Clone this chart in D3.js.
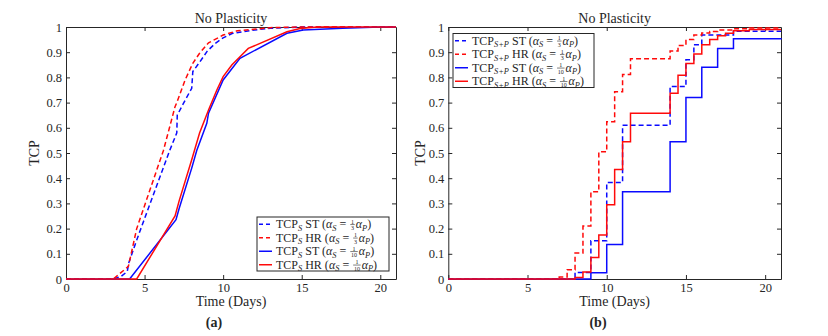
<!DOCTYPE html>
<meta charset="utf-8">
<style>
  body { margin: 0; background: #fff; }
  .axis path, .axis line { stroke: #262626; }
</style>
<body>
<script src="https://d3js.org/d3.v7.min.js"></script>
<script>

var width = 828,
    height = 336;
var FONT = "Liberation Serif";

// panel (a): TCP_S, time in days
var aStThirdT  = [0, 3, 3.5, 3.9, 4, 4.5, 6.6, 7.05, 7.08, 7.5, 8, 8.07, 8.5, 9, 9.5, 10, 10.6, 12, 13, 15, 21];
var aStThirdV  = [0, 0, 0.01, 0.03, 0.065, 0.155, 0.51, 0.58, 0.65, 0.70, 0.757, 0.823, 0.86, 0.905, 0.935, 0.957, 0.975, 0.988, 0.995, 1, 1];
var aHrThirdT  = [0, 3, 3.3, 3.97, 4.5, 6.2, 6.94, 7.05, 7.58, 8.07, 8.5, 9.07, 10, 10.9, 13.2, 15, 21];
var aHrThirdV  = [0, 0, 0.015, 0.05, 0.2, 0.51, 0.684, 0.70, 0.79, 0.856, 0.896, 0.937, 0.968, 0.985, 0.998, 1, 1];
var aStTenthT  = [0, 4.05, 7.0, 7.2, 8, 8.32, 8.96, 9.07, 10, 11.07, 14.06, 15.1, 17.6, 20, 21];
var aStTenthV  = [0, 0, 0.235, 0.28, 0.44, 0.51, 0.618, 0.658, 0.79, 0.876, 0.975, 0.988, 0.995, 1, 1];
var aHrTenthT  = [0, 4.5, 6.94, 7.2, 8, 8.5, 9.07, 9.6, 10, 10.55, 11.07, 11.6, 14.06, 14.9, 16, 21];
var aHrTenthV  = [0, 0, 0.25, 0.31, 0.473, 0.579, 0.671, 0.75, 0.803, 0.849, 0.882, 0.915, 0.981, 0.994, 1, 1];

// panel (b): TCP_S+P, step values (value holds from its time on)
var bStThirdT  = [0, 8, 9, 10, 11, 14, 15, 15.5, 16, 18, 21];
var bStThirdV  = [0, 0.026, 0.152, 0.383, 0.61, 0.764, 0.87, 0.93, 0.968, 0.983, 0.983];
var bHrThirdT  = [0, 7, 7.5, 8, 8.5, 9, 9.5, 10, 10.5, 11, 11.5, 14, 14.5, 15, 15.5, 16, 16.5, 17, 18, 19, 21];
var bHrThirdV  = [0, 0.008, 0.037, 0.103, 0.21, 0.346, 0.505, 0.624, 0.743, 0.812, 0.874, 0.905, 0.927, 0.95, 0.968, 0.976, 0.982, 0.988, 0.993, 0.996, 0.996];
var bStTenthT  = [0, 9, 10, 11, 14, 15, 16, 17, 18, 21];
var bStTenthV  = [0, 0.025, 0.137, 0.346, 0.545, 0.72, 0.84, 0.915, 0.953, 0.955];
var bHrTenthT  = [0, 8, 8.5, 9, 9.5, 10, 10.5, 11, 11.5, 14, 14.5, 15, 15.5, 16, 16.5, 17, 17.5, 18, 19, 21];
var bHrTenthV  = [0, 0.006, 0.028, 0.085, 0.175, 0.295, 0.435, 0.545, 0.658, 0.737, 0.809, 0.855, 0.893, 0.93, 0.95, 0.965, 0.975, 0.985, 0.99, 0.99];

var xTicks = [0, 5, 10, 15, 20];
var yTicks = [0, 0.1, 0.2, 0.3, 0.4, 0.5, 0.6, 0.7, 0.8, 0.9, 1];
var yTickLabels = ["0", "0.1", "0.2", "0.3", "0.4", "0.5", "0.6", "0.7", "0.8", "0.9", "1"];

var kinds  = ["ST", "HR", "ST", "HR"];
var denoms = ["3", "3", "10", "10"];
var colors = ["#0a0aff", "#ff0a0a", "#0a0aff", "#ff0a0a"];
var dashed = [true, true, false, false];

var svg = d3.select("body").append("svg")
    .attr("width", width)
    .attr("height", height)
    .attr("font-family", FONT)
    .style("background", "#fff");

function txt(g) {
  return g.append("text").attr("font-family", FONT).attr("fill", "#262626");
}

// writes a row of mixed text (subscripts, italics, stacked fraction)
function richText(g, x, yc, parts, size) {
  var cx = x, base = yc + size * 0.33;
  parts.forEach(function(p) {
    if (p.frac) {
      var fs = 6, bar = yc + 0.3;
      var num = txt(g).attr("y", bar - 1).attr("font-size", fs).attr("text-anchor", "middle").text(p.frac[0]);
      var den = txt(g).attr("y", bar + 5.7).attr("font-size", fs).attr("text-anchor", "middle").text(p.frac[1]);
      var w = Math.max(num.node().getComputedTextLength(), den.node().getComputedTextLength()) + 1.5;
      num.attr("x", cx + 1 + w / 2);
      den.attr("x", cx + 1 + w / 2);
      g.append("line").attr("x1", cx + 1).attr("x2", cx + 1 + w)
        .attr("y1", bar).attr("y2", bar).attr("stroke", "#262626").attr("stroke-width", 0.6);
      cx += w + 2;
    } else {
      var t = txt(g)
        .attr("x", cx)
        .attr("y", p.sub ? base + size * 0.2 : base)
        .attr("font-size", p.sub ? size * 0.7 : size)
        .attr("font-style", p.it ? "italic" : null)
        .style("white-space", "pre")
        .text(p.t);
      cx += t.node().getComputedTextLength();
    }
  });
}

function panel(opt) {
  var x = d3.scaleLinear().domain([0, 21]).range([opt.left, opt.right]);
  var y = d3.scaleLinear().domain([0, 1]).range([279, 27]);
  var g = svg.append("g");

  function styleTicks(a) {
    a.attr("font-family", FONT);
    a.selectAll("text").attr("font-size", 12.5).attr("fill", "#262626");
  }

  g.append("g").attr("class", "axis")
    .attr("transform", "translate(0,279)")
    .call(d3.axisBottom(x).tickValues(xTicks).tickSize(-4).tickSizeOuter(0).tickPadding(4))
    .call(styleTicks);
  g.append("g").attr("class", "axis")
    .attr("transform", "translate(0,27)")
    .call(d3.axisTop(x).tickValues(xTicks).tickSize(-4).tickSizeOuter(0).tickFormat(""));
  g.append("g").attr("class", "axis")
    .attr("transform", "translate(" + opt.left + ",0)")
    .call(d3.axisLeft(y).tickValues(yTicks).tickSize(-4).tickSizeOuter(0).tickPadding(4)
      .tickFormat(function(d, i) { return yTickLabels[i]; }))
    .call(styleTicks);
  g.append("g").attr("class", "axis")
    .attr("transform", "translate(" + opt.right + ",0)")
    .call(d3.axisRight(y).tickValues(yTicks).tickSize(-4).tickSizeOuter(0).tickFormat(""));

  var line = d3.line()
    .x(function(d) { return x(d[0]); })
    .y(function(d) { return y(d[1]); })
    .curve(opt.curve);

  opt.series.forEach(function(s, i) {
    g.append("path")
      .datum(d3.zip(s[0], s[1]))
      .attr("fill", "none")
      .attr("stroke", colors[i])
      .attr("stroke-width", 1.5)
      .attr("stroke-dasharray", dashed[i] ? "5,3" : null)
      .attr("d", line);
  });

  txt(g).attr("x", (opt.left + opt.right) / 2).attr("y", 23)
    .attr("text-anchor", "middle").attr("font-size", 14).text("No Plasticity");
  txt(g).attr("x", (opt.left + opt.right) / 2).attr("y", 306)
    .attr("text-anchor", "middle").attr("font-size", 14).text("Time (Days)");
  txt(g).attr("transform", "translate(" + opt.ylab + ",153) rotate(-90)")
    .attr("dy", "0.35em").attr("text-anchor", "middle").attr("font-size", 14).text("TCP");
  txt(g).attr("x", opt.tag).attr("y", 327)
    .attr("text-anchor", "middle").attr("font-size", 14).attr("font-weight", "bold").text(opt.label);

  // legend
  var L = opt.legend;
  var lg = g.append("g");
  lg.append("rect").attr("x", L.x).attr("y", L.y).attr("width", L.w).attr("height", L.h)
    .attr("fill", "#fff").attr("stroke", "#262626").attr("stroke-width", 1);
  kinds.forEach(function(k, i) {
    var yc = L.y + L.row * (i + 0.5) + 0.5;
    lg.append("line").attr("x1", L.x + 2).attr("x2", L.x + 15).attr("y1", yc).attr("y2", yc)
      .attr("stroke", colors[i]).attr("stroke-width", 1.5)
      .attr("stroke-dasharray", dashed[i] ? "4,3" : null);
    richText(lg, L.x + 19, yc, [
      {t: "TCP"}, {t: opt.sub, sub: true, it: true}, {t: " " + k + " ("},
      {t: "α", it: true}, {t: "S", sub: true, it: true}, {t: " = "},
      {frac: ["1", denoms[i]]}, {t: "α", it: true}, {t: "P", sub: true, it: true}, {t: ")"}
    ], 12);
  });
}

panel({
  left: 66, right: 396, ylab: 34, tag: 214, label: "(a)", sub: "S",
  curve: d3.curveLinear,
  series: [[aStThirdT, aStThirdV], [aHrThirdT, aHrThirdV], [aStTenthT, aStTenthV], [aHrTenthT, aHrTenthV]],
  legend: {x: 257, y: 217, w: 132, h: 54, row: 13.5}
});

panel({
  left: 448.3, right: 781, ylab: 420, tag: 598, label: "(b)", sub: "S+P",
  curve: d3.curveStepAfter,
  series: [[bStThirdT, bStThirdV], [bHrThirdT, bHrThirdV], [bStTenthT, bStTenthV], [bHrTenthT, bHrTenthV]],
  legend: {x: 453, y: 33.5, w: 141, h: 54, row: 13.5}
});

</script>
</body>
